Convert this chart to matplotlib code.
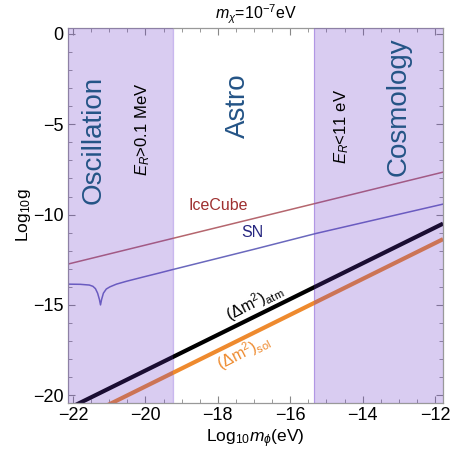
import numpy as np
import matplotlib
matplotlib.use('Agg')
import matplotlib.pyplot as plt
from matplotlib.ticker import MultipleLocator

plt.rcParams['font.family'] = ['Liberation Sans', 'DejaVu Sans']
plt.rcParams['mathtext.fontset'] = 'custom'
plt.rcParams['mathtext.rm'] = 'Liberation Sans'
plt.rcParams['mathtext.it'] = 'Liberation Sans:italic'

# data (x = log10 m_phi [eV], y = log10 g)
icecube_x = [-22.14, -11.78]
icecube_y = [-12.74, -7.65]

sn_x = [-22.14, -21.8, -21.55, -21.45, -21.38, -21.32, -21.27, -21.24, -21.21,
        -21.16, -21.08, -20.98, -20.8, -20.52, -20.07, -19.61, -19.24, -17.0,
        -15.3, -11.78]
sn_y = [-13.85, -13.86, -13.9, -13.97, -14.1, -14.35, -14.7, -15.0, -14.7,
        -14.35, -14.12, -14.0, -13.85, -13.69, -13.46, -13.23, -13.04, -11.92,
        -11.05, -9.42]

atm_x = [-22.14, -11.78]
atm_y = [-20.75, -10.5]

sol_x = [-21.5, -11.78]
sol_y = [-21.0, -11.36]

# excluded regions
osc_edge = -19.25
cosmo_edge = -15.35

fig = plt.figure(figsize=(4.62, 4.51), dpi=100)
ax = fig.add_axes([0.147, 0.106, 0.812, 0.832])

ax.axvline(osc_edge, color='#c9b8ee', lw=0.9, zorder=1)
ax.axvline(cosmo_edge, color='#c9b8ee', lw=0.9, zorder=1)

ax.plot(icecube_x, icecube_y, color='#b5666e', lw=1.1, zorder=2)
ax.plot(sn_x, sn_y, color='#6a68bd', lw=1.1, zorder=2)
ax.plot(atm_x, atm_y, color='black', lw=3.0, solid_capstyle='butt', zorder=2)
ax.plot(sol_x, sol_y, color='#ee8a2e', lw=3.0, solid_capstyle='butt', zorder=2)

# shading sits on top of the curves
ax.axvspan(-30, osc_edge, facecolor='#6a36ca', alpha=0.25, lw=0, zorder=3)
ax.axvspan(cosmo_edge, 0, facecolor='#6a36ca', alpha=0.25, lw=0, zorder=3)

ax.set_xlim(-22.14, -11.78)
ax.set_ylim(-20.44, 0.33)

ax.xaxis.set_major_locator(MultipleLocator(2))
ax.xaxis.set_minor_locator(MultipleLocator(0.5))
ax.yaxis.set_major_locator(MultipleLocator(5))
ax.yaxis.set_minor_locator(MultipleLocator(1))
ax.tick_params(which='both', direction='in', top=True, right=True,
               color='#888888', labelsize=13, pad=3)
ax.tick_params(which='major', length=5, width=0.8)
ax.tick_params(which='minor', length=3, width=0.6)
ax.set_xticks([-22, -20, -18, -16, -14, -12])
ax.set_xticklabels(['\u221222', '\u221220', '\u221218', '\u221216', '\u221214', '\u221212'])
ax.set_yticks([0, -5, -10, -15, -20])
ax.set_yticklabels(['0', '\u22125', '\u221210', '\u221215', '\u221220'])
for s in ax.spines.values():
    s.set_color('#999999')
    s.set_linewidth(0.9)

ax.set_xlabel(r'Log$_{10}$$m_\phi$(eV)', fontsize=12.5, labelpad=2)
ax.set_ylabel(r'Log$_{10}$g', fontsize=12.5, labelpad=0)
ax.set_title(r'$m_\chi$=10$^{-7}$eV', fontsize=11.5, pad=6)

# region labels
ax.text(-21.42, -5.87, 'Oscillation', rotation=90, color='#245486',
        fontsize=20, ha='center', va='center', zorder=4)
ax.text(-17.44, -3.95, 'Astro', rotation=90, color='#245486',
        fontsize=20, ha='center', va='center', zorder=4)
ax.text(-13.0, -4.04, 'Cosmology', rotation=90, color='#245486',
        fontsize=20, ha='center', va='center', zorder=4)
ax.text(-20.08, -5.3, r'$E_R$>0.1 MeV', rotation=90, color='black',
        fontsize=12, ha='center', va='center', zorder=4)
ax.text(-14.58, -5.1, r'$E_R$<11 eV', rotation=90, color='black',
        fontsize=12, ha='center', va='center', zorder=4)

# curve labels
ax.text(-18.0, -9.47, 'IceCube', color='#9e3030', fontsize=11.5,
        ha='center', va='center', zorder=4)
ax.text(-17.06, -10.97, 'SN', color='#262680', fontsize=11.5,
        ha='center', va='center', zorder=4)
ax.text(-17.0, -14.85, r'($\Delta$m$^2$)$_{\rm atm}$', color='black',
        fontsize=11.5, rotation=27, ha='center', va='center', zorder=4)
ax.text(-17.3, -17.6, r'($\Delta$m$^2$)$_{\rm sol}$', color='#ee8a2e',
        fontsize=11.5, rotation=27, ha='center', va='center', zorder=4)

fig.savefig('out.png', dpi=100)
